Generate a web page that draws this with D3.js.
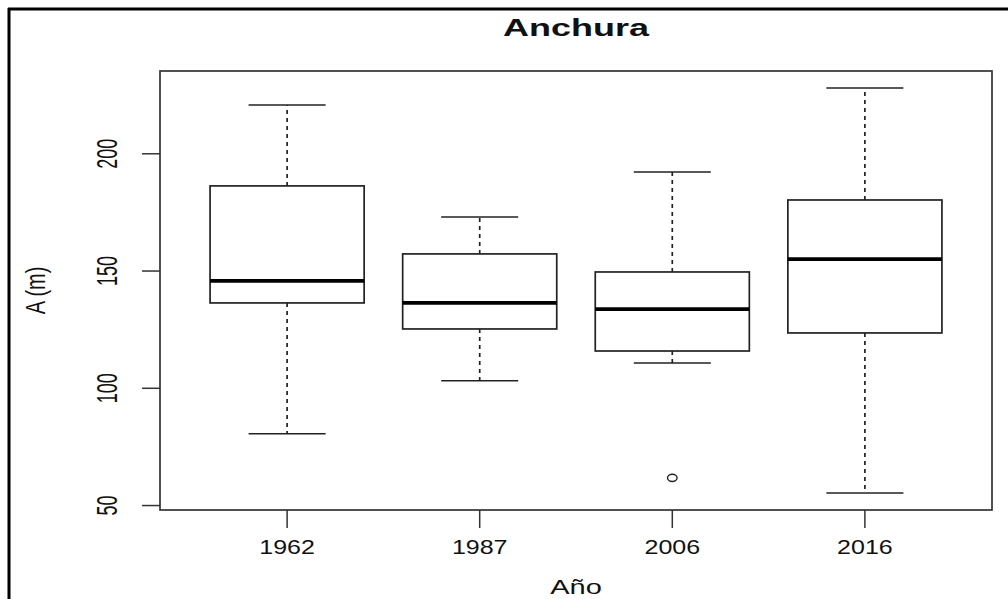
<!DOCTYPE html>
<html>
<head>
<meta charset="utf-8">
<script src="https://cdn.jsdelivr.net/npm/d3@7"></script>
<style>
html,body{margin:0;padding:0;background:#fff;}
svg{display:block;}
text{font-family:"Liberation Sans",Arial,sans-serif;fill:#111;}
</style>
</head>
<body>
<svg id="chart" width="1008" height="599"></svg>
<script>
const categories = ["1962", "1987", "2006", "2016"];
const whiskerLow  = [80.6, 103.2, 110.8, 55.4];
const q1          = [136.4, 125.3, 115.9, 123.6];
const medians     = [145.8, 136.4, 133.8, 155.1];
const q3          = [186.3, 157.3, 149.6, 180.3];
const whiskerHigh = [220.8, 173.0, 192.2, 228.0];
const outliers    = [[], [], [61.8], []];
const yTicks      = [50, 100, 150, 200];

(function () {
const svg = d3.select("#chart");
const W = 1008, H = 599;
const pLeft = 160, pRight = 992, pTop = 71, pBottom = 510;

// outer frame (top & left)
svg.append("line").attr("x1", 8).attr("x2", W).attr("y1", 9).attr("y2", 9)
  .attr("stroke", "#000").attr("stroke-width", 3);
svg.append("line").attr("x1", 9).attr("x2", 9).attr("y1", 8).attr("y2", H)
  .attr("stroke", "#000").attr("stroke-width", 3);

const x = d3.scaleLinear().domain([0.34, categories.length + 0.66]).range([pLeft, pRight]);
const yMin = 48.1, yMax = 235.3;
const y = d3.scaleLinear().domain([yMin, yMax]).range([pBottom, pTop]);

const data = categories.map((c, i) => ({
  c, i: i + 1, lo: whiskerLow[i], q1: q1[i], med: medians[i], q3: q3[i], hi: whiskerHigh[i], out: outliers[i]
}));

const boxW = x(1.4) - x(1);   // half width (0.4 units)
const capW = x(1.2) - x(1);   // half cap width

const g = svg.append("g");
const dash = "4,4";
const col = "#222";

data.forEach(d => {
  const cx = x(d.i);
  g.append("line").attr("x1", cx).attr("x2", cx).attr("y1", y(d.q3)).attr("y2", y(d.hi))
    .attr("stroke", col).attr("stroke-width", 1.7).attr("stroke-dasharray", dash);
  g.append("line").attr("x1", cx).attr("x2", cx).attr("y1", y(d.q1)).attr("y2", y(d.lo))
    .attr("stroke", col).attr("stroke-width", 1.7).attr("stroke-dasharray", dash);
  g.append("line").attr("x1", cx - capW).attr("x2", cx + capW).attr("y1", y(d.hi)).attr("y2", y(d.hi))
    .attr("stroke", col).attr("stroke-width", 1.5);
  g.append("line").attr("x1", cx - capW).attr("x2", cx + capW).attr("y1", y(d.lo)).attr("y2", y(d.lo))
    .attr("stroke", col).attr("stroke-width", 1.5);
  g.append("rect").attr("x", cx - boxW).attr("width", 2 * boxW)
    .attr("y", y(d.q3)).attr("height", y(d.q1) - y(d.q3))
    .attr("fill", "none").attr("stroke", col).attr("stroke-width", 1.7);
  g.append("line").attr("x1", cx - boxW).attr("x2", cx + boxW).attr("y1", y(d.med)).attr("y2", y(d.med))
    .attr("stroke", "#000").attr("stroke-width", 3.8);
  d.out.forEach(o => {
    g.append("ellipse").attr("cx", cx).attr("cy", y(o)).attr("rx", 4.8).attr("ry", 3.6)
      .attr("fill", "none").attr("stroke", col).attr("stroke-width", 1.4);
  });
});

// plot box
svg.append("rect").attr("x", pLeft).attr("y", pTop).attr("width", pRight - pLeft).attr("height", pBottom - pTop)
  .attr("fill", "none").attr("stroke", "#333").attr("stroke-width", 1.7);

// y axis
const yAxis = svg.append("g");
yTicks.forEach(t => {
  yAxis.append("line").attr("x1", pLeft - 18).attr("x2", pLeft).attr("y1", y(t)).attr("y2", y(t))
    .attr("stroke", "#333").attr("stroke-width", 1.5);
  yAxis.append("text").attr("transform", `translate(117,${y(t)}) rotate(-90) scale(1,1.65)`)
    .attr("text-anchor", "middle").attr("font-size", 18).text(t);
});

// x axis
const xAxis = svg.append("g");
data.forEach(d => {
  xAxis.append("line").attr("x1", x(d.i)).attr("x2", x(d.i)).attr("y1", pBottom).attr("y2", pBottom + 18)
    .attr("stroke", "#333").attr("stroke-width", 1.5);
  xAxis.append("text").attr("transform", `translate(${x(d.i)},554) scale(1.25,1)`)
    .attr("text-anchor", "middle").attr("font-size", 20).text(d.c);
});

// titles
svg.append("text").attr("transform", `translate(${(pLeft + pRight) / 2},36) scale(1.5,1)`)
  .attr("text-anchor", "middle").attr("font-size", 24).attr("font-weight", "bold").attr("fill", "#000").text("Anchura");
svg.append("text").attr("transform", `translate(${(pLeft + pRight) / 2},594) scale(1.45,1)`)
  .attr("text-anchor", "middle").attr("font-size", 20).text("Año");
svg.append("text").attr("transform", `translate(45,${(pTop + pBottom) / 2}) rotate(-90) scale(1,1.35)`)
  .attr("text-anchor", "middle").attr("font-size", 20).text("A (m)");
})();
</script>
</body>
</html>
